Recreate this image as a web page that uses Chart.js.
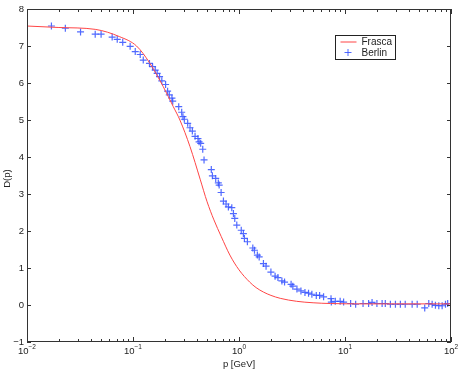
<!DOCTYPE html>
<html>
<head>
<meta charset="utf-8">
<script src="https://cdn.jsdelivr.net/npm/chart.js@4"></script>
<style>
  body { margin: 0; background: #fff; }
  #wrap { width: 460px; height: 370px; }
</style>
</head>
<body>
<div id="wrap"><canvas id="dChart" width="460" height="370"></canvas></div>
<script>
// Frasca curve
const frascaP = [0.01, 0.02, 0.044, 0.075, 0.108, 0.143, 0.193, 0.24, 0.277, 0.345, 0.43, 0.5, 0.58, 0.68, 0.82, 1.0, 1.26, 1.45, 1.7, 2.0, 2.45, 3.5, 5, 7.3, 15, 30, 100];
const frascaD = [7.54, 7.5, 7.45, 7.25, 7.0, 6.55, 5.9, 5.36, 5.0, 4.28, 3.4, 2.79, 2.3, 1.85, 1.35, 0.95, 0.62, 0.47, 0.35, 0.26, 0.18, 0.1, 0.06, 0.04, 0.03, 0.03, 0.03];

// Berlin lattice points
const berlinP = [0.017, 0.023, 0.032, 0.044, 0.05, 0.0636, 0.071, 0.08, 0.094, 0.105, 0.117, 0.125, 0.143, 0.153, 0.162, 0.169, 0.178, 0.187, 0.203, 0.212, 0.22, 0.233, 0.237, 0.27, 0.288, 0.296, 0.305, 0.328, 0.345, 0.363, 0.385, 0.41, 0.42, 0.435, 0.455, 0.468, 0.548, 0.561, 0.603, 0.638, 0.65, 0.678, 0.713, 0.755, 0.794, 0.855, 0.886, 0.912, 0.953, 1.05, 1.1, 1.125, 1.2, 1.35, 1.4, 1.49, 1.55, 1.7, 1.8, 2.0, 2.19, 2.33, 2.54, 2.69, 3.1, 3.22, 3.52, 3.84, 4.19, 4.53, 4.87, 5.36, 5.76, 6.28, 7.38, 7.43, 8.1, 9.0, 9.7, 11.3, 12.6, 14.8, 16.7, 18, 20, 22.4, 24, 26.8, 29.9, 33.3, 37, 43, 48, 56.5, 61.7, 66.4, 71.3, 76.7, 82.5, 88.7, 93];
const berlinD = [7.54, 7.48, 7.38, 7.32, 7.32, 7.24, 7.18, 7.1, 6.99, 6.85, 6.77, 6.62, 6.53, 6.44, 6.35, 6.26, 6.17, 6.06, 5.96, 5.78, 5.68, 5.59, 5.51, 5.36, 5.21, 5.09, 5.02, 4.91, 4.79, 4.7, 4.56, 4.5, 4.41, 4.37, 4.21, 3.92, 3.66, 3.49, 3.42, 3.3, 3.24, 3.04, 2.81, 2.73, 2.65, 2.63, 2.47, 2.34, 2.16, 2.02, 1.93, 1.8, 1.71, 1.54, 1.48, 1.35, 1.3, 1.12, 1.05, 0.89, 0.78, 0.74, 0.65, 0.62, 0.56, 0.51, 0.43, 0.38, 0.34, 0.32, 0.29, 0.26, 0.26, 0.22, 0.17, 0.08, 0.1, 0.1, 0.08, 0.04, 0.02, 0.04, 0.04, 0.07, 0.04, 0.04, 0.04, 0.02, 0.02, 0.02, 0.02, 0.02, 0.02, -0.08, 0.04, 0.02, -0.01, -0.02, -0.02, 0.02, 0.04];

const xDecades = [-2, -1, 0, 1, 2];
const yTicks = [-1, 0, 1, 2, 3, 4, 5, 6, 7, 8];

const red = '#ff4545';
const blue = 'rgba(50,80,255,0.85)';
const font = '"Liberation Sans", Arial, sans-serif';

// axes box, inward ticks, labels and legend, matlab style
const matlabAxes = {
    id: 'matlabAxes',
    afterDraw(chart) {
        const c = chart.ctx;
        const a = chart.chartArea;
        const xs = chart.scales.x, ys = chart.scales.y;
        c.save();
        c.strokeStyle = '#333';
        c.lineWidth = 1;
        c.strokeRect(a.left + 0.5, a.top + 0.5, a.right - a.left - 1, a.bottom - a.top - 1);

        c.beginPath();
        xDecades.forEach(function (e, i) {
            const x = Math.round(xs.getPixelForValue(Math.pow(10, e))) + 0.5;
            c.moveTo(x, a.bottom); c.lineTo(x, a.bottom - 5);
            c.moveTo(x, a.top); c.lineTo(x, a.top + 5);
            if (i < xDecades.length - 1) {
                for (let m = 2; m <= 9; m++) {
                    const xm = Math.round(xs.getPixelForValue(m * Math.pow(10, e))) + 0.5;
                    c.moveTo(xm, a.bottom); c.lineTo(xm, a.bottom - 3);
                    c.moveTo(xm, a.top); c.lineTo(xm, a.top + 3);
                }
            }
        });
        yTicks.forEach(function (v) {
            const y = Math.round(ys.getPixelForValue(v)) + 0.5;
            c.moveTo(a.left, y); c.lineTo(a.left + 4, y);
            c.moveTo(a.right, y); c.lineTo(a.right - 4, y);
        });
        c.stroke();

        c.fillStyle = '#222';
        c.font = '9.5px ' + font;
        c.textAlign = 'right';
        c.textBaseline = 'middle';
        yTicks.forEach(function (v) {
            const label = v < 0 ? '\u2212' + (-v) : String(v);
            c.fillText(label, a.left - 3, ys.getPixelForValue(v));
        });

        c.textBaseline = 'alphabetic';
        xDecades.forEach(function (e) {
            const x = xs.getPixelForValue(Math.pow(10, e));
            const exp = e < 0 ? '\u2212' + (-e) : String(e);
            c.font = '9.5px ' + font;
            const w1 = c.measureText('10').width;
            c.font = '6.5px ' + font;
            const w2 = c.measureText(exp).width;
            const x0 = x - (w1 + w2) / 2;
            c.textAlign = 'left';
            c.font = '9.5px ' + font;
            c.fillText('10', x0, a.bottom + 12);
            c.font = '6.5px ' + font;
            c.fillText(exp, x0 + w1, a.bottom + 7);
        });

        c.font = '9.5px ' + font;
        c.textAlign = 'center';
        c.fillText('p [GeV]', xs.getPixelForValue(1), a.bottom + 25);
        c.save();
        c.translate(7, (a.top + a.bottom) / 2 + 3);
        c.rotate(-Math.PI / 2);
        c.textBaseline = 'middle';
        c.fillText('D(p)', 0, 0);
        c.restore();

        // legend
        const lx = 335.5, ly = 35.5, lw = 60, lh = 24;
        c.fillStyle = '#fff';
        c.fillRect(lx, ly, lw, lh);
        c.strokeStyle = '#222';
        c.strokeRect(lx, ly, lw, lh);
        c.strokeStyle = red;
        c.beginPath();
        c.moveTo(lx + 5, ly + 6.5); c.lineTo(lx + 21, ly + 6.5);
        c.stroke();
        c.strokeStyle = blue;
        c.beginPath();
        c.moveTo(lx + 9, ly + 17); c.lineTo(lx + 16, ly + 17);
        c.moveTo(lx + 12.5, ly + 13.5); c.lineTo(lx + 12.5, ly + 20.5);
        c.stroke();
        c.fillStyle = '#222';
        c.font = '10px ' + font;
        c.textAlign = 'left';
        c.textBaseline = 'middle';
        c.fillText('Frasca', lx + 26, ly + 7);
        c.fillText('Berlin', lx + 26, ly + 17.5);
        c.restore();
    }
};

const ctx = document.getElementById('dChart').getContext('2d');
const dChart = new Chart(ctx, {
    type: 'scatter',
    data: {
        datasets: [
            {
                label: 'Frasca',
                data: frascaP.map(function (p, i) { return { x: p, y: frascaD[i] }; }),
                showLine: true,
                borderColor: red,
                borderWidth: 1,
                pointRadius: 0,
                cubicInterpolationMode: 'monotone',
                fill: false
            },
            {
                label: 'Berlin',
                data: berlinP.map(function (p, i) { return { x: p, y: berlinD[i] }; }),
                showLine: false,
                pointStyle: 'cross',
                pointRadius: 3.5,
                borderColor: blue,
                backgroundColor: blue,
                borderWidth: 1.2
            }
        ]
    },
    options: {
        responsive: false,
        animation: false,
        layout: { padding: { left: 27, right: 9, top: 9, bottom: 28 } },
        plugins: {
            legend: { display: false },
            tooltip: { enabled: false }
        },
        scales: {
            x: { type: 'logarithmic', min: 0.01, max: 100, display: false },
            y: { type: 'linear', min: -1, max: 8, display: false }
        }
    },
    plugins: [matlabAxes]
});
</script>
</body>
</html>
